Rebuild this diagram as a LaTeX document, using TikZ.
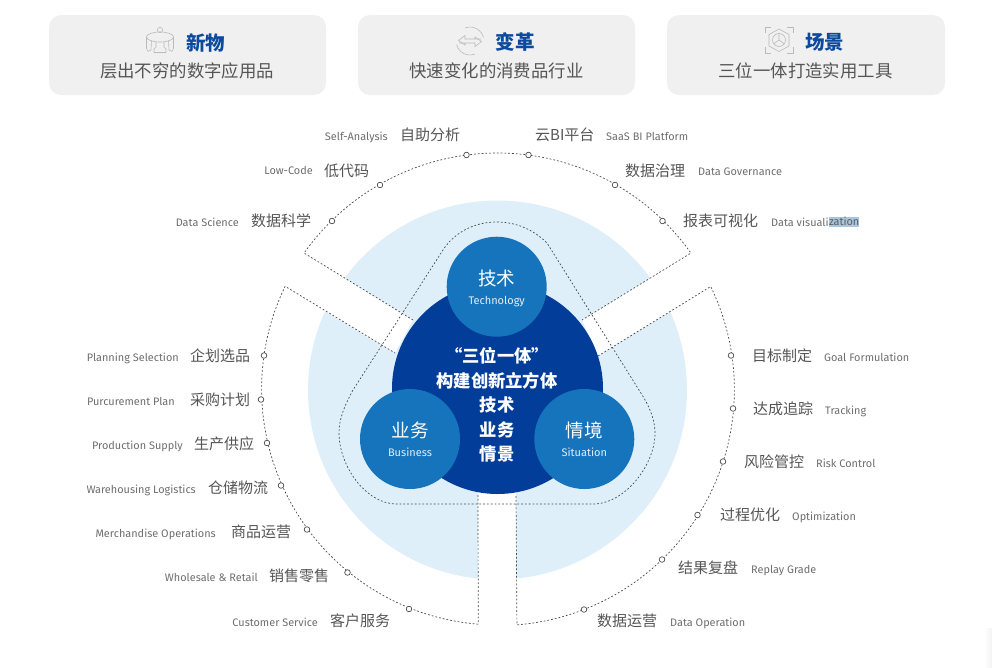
\documentclass[tikz,border=0pt]{standalone}
\usepackage{fontspec}
\usetikzlibrary{calc}
\setmainfont{Noto Sans CJK SC}
\newfontfamily\latinface{Fira Sans}
\definecolor{paleblue}{HTML}{DEEFFA}
\definecolor{deepblue}{HTML}{033D9A}
\definecolor{midblue}{HTML}{1574BC}
\definecolor{cardgrey}{HTML}{F0F0F0}
\definecolor{iconline}{HTML}{BABABA}
\definecolor{labelcn}{HTML}{555555}
\definecolor{labelen}{HTML}{6E6E6E}
\definecolor{titleblue}{HTML}{0C4A9E}
\definecolor{dotline}{HTML}{4A4A4A}
\definecolor{pick}{HTML}{A9C6DE}
\definecolor{cornerglow}{HTML}{F3F3F3}
\tikzset{
  cardbox/.style={fill=cardgrey,rounded corners=12pt,draw=none},
  cardtitle/.style={font=\fontsize{19.5pt}{22pt}\selectfont\bfseries,text=titleblue,inner sep=0pt},
  cardsub/.style={font=\fontsize{17.4pt}{20pt}\selectfont,text=labelcn,inner sep=0pt},
  cn/.style={font=\fontsize{15pt}{18pt}\selectfont,text=labelcn,inner sep=0pt,text height=13.2pt,text depth=0pt},
  en/.style={font=\latinface\fontsize{10.9pt}{13pt}\selectfont,text=labelen,inner sep=0pt,text height=9.5pt,text depth=0pt},
  dotted edge/.style={draw=dotline,line width=0.7pt,dash pattern=on 1.8pt off 2pt},
  stud/.style={circle,draw=dotline,fill=white,line width=0.7pt,minimum size=5.6pt,inner sep=0pt},
  hub/.style={circle,fill=midblue,minimum size=100pt,inner sep=0pt},
  hubcn/.style={font=\fontsize{18.5pt}{20pt}\selectfont,text=white,inner sep=0pt},
  huben/.style={font=\latinface\fontsize{11pt}{13pt}\selectfont,text=white!88!midblue,inner sep=0pt,text height=9.5pt,text depth=0pt},
  icon/.style={draw=iconline,line width=0.6pt},
}
\begin{document}
\begin{tikzpicture}[x=1pt,y=1pt,yscale=-1]
\useasboundingbox (0,0) rectangle (992,667);
\coordinate (C) at (497.5,390);

% faint edge of a panel in the lower right corner
\shade[left color=white,right color=cornerglow,shading angle=90] (984,628) rectangle (992,667);

% header cards
\fill[cardbox] (49,15) rectangle (326,95);
\fill[cardbox] (358,15) rectangle (635,95);
\fill[cardbox] (667,15) rectangle (945,95);
\node[cardtitle] (t1) at (205.5,43) {新物};
\node[cardtitle] (t2) at (515,42) {变革};
\node[cardtitle] (t3) at (824.5,42) {场景};
\node[cardsub] (s1) at (187,71) {层出不穷的数字应用品};
\node[cardsub] (s2) at (496.5,71) {快速变化的消费品行业};
\node[cardsub] (s3) at (805.5,71) {三位一体打造实用工具};

% pavilion icon
\draw[icon] (160,30) circle (2.6pt);
\draw[icon] (160,37) ellipse (13.5pt and 5pt);
\draw[icon] (146.5,37) -- (146.5,48) .. controls (147,52) and (150,52) .. (151,50) -- (151.5,41);
\draw[icon] (173.5,37) -- (173.5,48) .. controls (173,52) and (170,52) .. (169,50) -- (168.5,41);
\draw[icon] (156,42) -- (156,47) -- (154,49) -- (154,52.5) -- (166,52.5) -- (166,49) -- (164,47) -- (164,42);

% exchange icon
\draw[icon] (470,41) ++(250:14pt) arc[start angle=250,end angle=345,radius=14pt];
\draw[icon] (470,41) ++(70:14pt) arc[start angle=70,end angle=165,radius=14pt];
\draw[icon] (481,39) -- (465,39) -- (465,35.5) -- (458.5,40.5) -- (465,45) -- (465,43);
\draw[icon] (459,43) -- (475,43) -- (475,46.5) -- (481.5,41.5) -- (475,37) -- (475,39);

% framed hexagon icon
\draw[icon] (765,33) -- (765,27) -- (771,27);
\draw[icon] (787,27) -- (793,27) -- (793,33);
\draw[icon] (765,47) -- (765,53) -- (771,53);
\draw[icon] (787,53) -- (793,53) -- (793,47);
\draw[icon] (779,29) -- (789,34.5) -- (789,46) -- (779,51.5) -- (769,46) -- (769,34.5) -- cycle;
\draw[icon] (779,40) circle (6.5pt);
\draw[icon] (779,33.5) -- (779,40) -- (773.5,44);
\draw[icon] (779,40) -- (784.5,44);

% pale disc and the three white channels across it
\fill[paleblue] (C) circle (189.5pt);
\fill[white] (304,253) -- (413,320) -- (395,353) -- (284,287) -- cycle;
\fill[white] (691,253) -- (582,320) -- (598,356) -- (710,287) -- cycle;
\fill[white] (478,480) rectangle (516,640);

% dotted outer sectors
\coordinate (a1) at ($(C)+(215.3:237pt)$);
\coordinate (b1) at ($(C)+(-25.9:237pt)$);
\coordinate (c1) at ($(C)+(94.7:235pt)$);
\draw[dotted edge] (413,320) -- (a1) arc[start angle=215.3,end angle=324.7,radius=237pt] -- (582,320);
\draw[dotted edge] (598,356) -- (b1) arc[start angle=-25.9,end angle=85.5,radius=236pt] -- (516,495);
\draw[dotted edge] (478,495) -- (c1) arc[start angle=94.7,end angle=205.8,radius=236pt] -- (395,353);

% core discs
\node[circle,fill=deepblue,minimum size=211pt,inner sep=0pt] (core) at (497.5,388.5) {};
\node[hub] (tech) at (496.7,286.7) {};
\node[hub] (biz) at (410,439) {};
\node[hub] (sit) at (584.3,439) {};
\node[hubcn] (techcn) at (496.7,278) {技术};
\node[huben] (techen) at (496.7,300) {Technology};
\node[hubcn] (bizcn) at (410,430) {业务};
\node[huben] (bizen) at (410,452) {Business};
\node[hubcn] (sitcn) at (584.3,430) {情境};
\node[huben] (siten) at (584.3,452) {Situation};
\node[font=\fontsize{17.3pt}{24.4pt}\selectfont\bfseries,text=white,align=center,inner sep=0pt] (motto) at (497,405)
  {“三位一体”\\构建创新立方体\\技术\\业务\\情景};

% dotted rounded triangle around the hubs
\draw[dotted edge] (497,222) .. controls (515,222) and (533,229) .. (547,243)
  -- (644,398) .. controls (651,410) and (655,422) .. (655,433)
  .. controls (655,465) and (625,504) .. (593,504) -- (397,504)
  .. controls (365,504) and (339,465) .. (339,433)
  .. controls (339,418) and (345,405) .. (353,390) -- (443,250)
  .. controls (452,236) and (470,222) .. (497,222) -- cycle;

% studs on the outer arcs
\foreach \nm/\px/\py in {p1/332/221,p2/380/185,p3/466.5/155,p4/528.5/155,p5/615/185,p6/662.5/221,
  q1/731/355.5,q2/733/408.5,q3/723/461.5,q4/697.5/515,q5/662/559.5,q6/584/609.5,
  r1/264/355.5,r2/261/399.5,r3/267/443,r4/281/485.5,r5/307/529.5,r6/347.5/572.5,r7/409/609}
  \node[stud] (\nm) at (\px,\py) {};

% top sector labels
\node[en,anchor=east] (e1) at (388,136) {Self-Analysis};
\node[cn,anchor=west] (n1) at (400,134) {自助分析};
\node[en,anchor=east] (e2) at (313,170) {Low-Code};
\node[cn,anchor=west] (n2) at (324,169.5) {低代码};
\node[en,anchor=east] (e3) at (239,222) {Data Science};
\node[cn,anchor=west] (n3) at (251,220) {数据科学};
\node[cn,anchor=west] (n4) at (535,134) {云BI平台};
\node[en,anchor=west] (e4) at (606,136) {SaaS BI Platform};
\node[cn,anchor=west] (n5) at (625,170) {数据治理};
\node[en,anchor=west] (e5) at (698,171) {Data Governance};
\node[cn,anchor=west] (n6) at (683,220) {报表可视化};
\node[en,anchor=west] (e6) at (771,222) {Data visuali};
\node[en,anchor=west,fill=pick,text height=8pt,text depth=1.5pt,inner ysep=0pt,text=labelen!85!black] (e6b) at (e6.east) {zation};

% left sector labels
\foreach \nm/\cx/\cy/\ex/\ey/\cnt/\ent in {
  l1/190/355/179/357/企划选品/Planning Selection,
  l2/190/399/175/401/采购计划/Purcurement Plan,
  l3/194/443/183/445/生产供应/Production Supply,
  l4/208/487/196/489/仓储物流/Warehousing Logistics,
  l5/231/531/216/533/商品运营/Merchandise Operations,
  l6/269/575/258/577/销售零售/Wholesale \& Retail,
  l7/330/620/318/622/客户服务/Customer Service}{
  \node[cn,anchor=west] (\nm cn) at (\cx,\cy) {\cnt};
  \node[en,anchor=east] (\nm en) at (\ex,\ey) {\ent};
}

% right sector labels
\foreach \nm/\cx/\cy/\ex/\ey/\cnt/\ent in {
  g1/752/355/824/357/目标制定/Goal Formulation,
  g2/753/408/825/410/达成追踪/Tracking,
  g3/744/461/816/463/风险管控/Risk Control,
  g4/720/514/792/516/过程优化/Optimization,
  g5/678/567/751/569/结果复盘/Replay Grade,
  g6/597/620/670/622/数据运营/Data Operation}{
  \node[cn,anchor=west] (\nm cn) at (\cx,\cy) {\cnt};
  \node[en,anchor=west] (\nm en) at (\ex,\ey) {\ent};
}
\end{tikzpicture}
\end{document}
